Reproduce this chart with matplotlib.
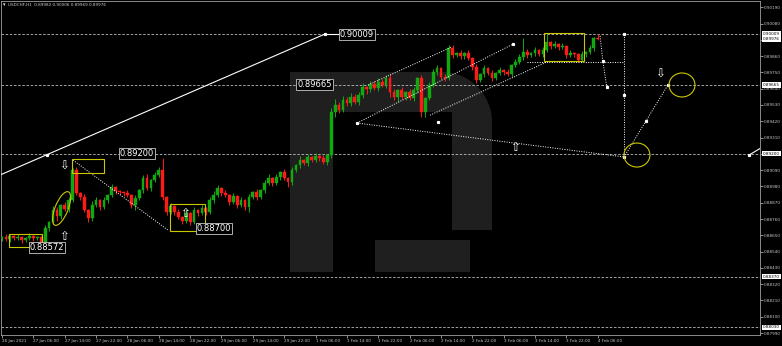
import matplotlib
matplotlib.use("Agg")
import matplotlib.pyplot as plt
import matplotlib.patches as mpatches
import matplotlib.transforms as mtransforms
import numpy as np

# USDCHF H1 candles, 26 Jan 22:00 -> 4 Feb 06:00
first_open = 0.88630
closes = [
    0.88637, 0.88623, 0.88644, 0.88630, 0.88637, 0.88616, 0.88630, 0.88644, 0.88630, 0.88637,
    0.88583, 0.88698, 0.88738, 0.88819, 0.88779, 0.88853, 0.88826, 0.88887, 0.89090, 0.88934,
    0.88907, 0.88819, 0.88765, 0.88853, 0.88887, 0.88840, 0.88887, 0.88921, 0.88975, 0.88948,
    0.88941, 0.88934, 0.88921, 0.88853, 0.88900, 0.88954, 0.89036, 0.88968, 0.89022, 0.89056,
    0.89090, 0.88907, 0.88806, 0.88846, 0.88806, 0.88772, 0.88745, 0.88799, 0.88738, 0.88819,
    0.88799, 0.88833, 0.88806, 0.88887, 0.88921, 0.88968, 0.88934, 0.88921, 0.88873, 0.88914,
    0.88853, 0.88887, 0.88840, 0.88907, 0.88941, 0.88907, 0.88954, 0.89002, 0.89036, 0.89002,
    0.89042, 0.89076, 0.89036, 0.89009, 0.89090, 0.89123, 0.89157, 0.89137, 0.89178, 0.89157,
    0.89184, 0.89171, 0.89144, 0.89191, 0.89482, 0.89529, 0.89495, 0.89563, 0.89543, 0.89583,
    0.89549, 0.89597, 0.89651, 0.89637, 0.89671, 0.89644, 0.89685, 0.89664, 0.89712, 0.89617,
    0.89583, 0.89630, 0.89583, 0.89617, 0.89576, 0.89630, 0.89712, 0.89482, 0.89576, 0.89664,
    0.89752, 0.89779, 0.89718, 0.89712, 0.89914, 0.89867, 0.89881, 0.89860, 0.89881, 0.89847,
    0.89786, 0.89698, 0.89739, 0.89779, 0.89745, 0.89712, 0.89745, 0.89766, 0.89752, 0.89739,
    0.89799, 0.89820, 0.89854, 0.89887, 0.89867, 0.89881, 0.89901, 0.89874, 0.89901, 0.89955,
    0.89928, 0.89941, 0.89921, 0.89928, 0.89867, 0.89881, 0.89874, 0.89833, 0.89874, 0.89887,
    0.89914, 0.89982, 0.89976,
]
# wick lengths in pips above / below the body
upper_wick = [
    1, 2, 1, 1, 2, 1, 1, 2, 1, 1,
    1, 2, 1, 3, 2, 1, 2, 2, 1.5, 2,
    1, 2, 1, 3, 2, 1, 2, 1, 2, 1,
    1, 1, 2, 1, 2, 1, 2, 3, 1, 2,
    2, 8, 1, 2, 1, 2, 1, 3, 1, 2,
    1, 2, 1, 2, 3, 2, 1, 2, 1, 2,
    1, 2, 1, 2, 1, 2, 1, 2, 3, 1,
    2, 1, 2, 1, 2, 1, 3, 1, 2, 1,
    2, 1, 2, 1, 3, 4, 2, 3, 2, 3,
    2, 2, 3, 1, 2, 2, 3, 2, 2, 3,
    2, 1, 2, 1, 2, 2, 1, 2, 1, 2,
    2, 2, 1, 2, 2, 2, 1, 2, 1, 2,
    1, 2, 1, 2, 1, 2, 1, 2, 1, 2,
    1, 2, 2, 9.5, 2, 1, 2, 1, 2, 5.4,
    1, 2, 1, 2, 1, 2, 1, 1, 2, 1,
    2, 1, 2.4,
]
lower_wick = [
    2, 1, 2, 1, 1, 2, 1, 1, 2, 1,
    2, 1, 2, 1, 3, 2, 1, 2, 1, 1,
    2, 1, 2.7, 2, 1, 2, 1, 2, 1, 2,
    1, 2, 1, 2, 3, 1, 2, 1, 2, 1,
    1, 2, 2, 1, 2, 1, 2, 1, 2, 1,
    2, 1, 2, 1, 2, 1, 2, 1, 2, 1,
    2, 1, 2, 3, 1, 2, 1, 2, 1, 2,
    1, 2, 1, 3, 2, 1, 2, 1, 2, 1,
    1, 2, 1, 2, 2, 3, 2, 1, 2, 2,
    1, 2, 2, 3, 2, 1, 2, 1, 2, 3,
    2, 3, 1, 2, 1, 2, 2, 3.4, 3.4, 1,
    1, 2, 1, 2, 1, 2, 1, 2, 2, 1,
    2, 2, 1, 2, 1, 2, 1, 1, 2, 1,
    2, 1, 1, 2, 2, 1, 2, 1, 2, 1,
    2, 1, 2, 1, 2, 1, 2, 1, 1, 2,
    1, 2, 0.7,
]
PIP = 0.0001

x_tick_bars = [0, 8, 16, 24, 32, 40, 48, 56, 64, 72, 80, 88, 96, 104, 112, 120, 128, 136, 144, 152]
x_tick_labels = ["26 Jan 2021", "27 Jan 06:00", "27 Jan 14:00", "27 Jan 22:00", "28 Jan 06:00",
                 "28 Jan 14:00", "28 Jan 22:00", "29 Jan 06:00", "29 Jan 14:00", "29 Jan 22:00",
                 "1 Feb 06:00", "1 Feb 14:00", "1 Feb 22:00", "2 Feb 06:00", "2 Feb 14:00",
                 "2 Feb 22:00", "3 Feb 06:00", "3 Feb 14:00", "3 Feb 22:00", "4 Feb 06:00"]
y_ticks = [0.87990, 0.88100, 0.88210, 0.88320, 0.88430, 0.88540, 0.88650, 0.88760, 0.88870,
           0.88980, 0.89090, 0.89200, 0.89310, 0.89420, 0.89530, 0.89640, 0.89750, 0.89860,
           0.89970, 0.90080, 0.90190]

# levels drawn on the chart
h_levels = [0.90009, 0.89665, 0.89200, 0.88370, 0.88030]
tag_levels = [0.90009, 0.89976, 0.89665, 0.89200, 0.88370, 0.88030]
chart_labels = [(86.2, 0.90009, "0.90009"), (75.3, 0.89665, "0.89665"), (30.1, 0.89200, "0.89200"),
                (49.7, 0.88693, "0.88700"), (7.1, 0.88565, "0.88572")]

GREEN = '#10aa10'
RED = '#ff1a1a'
YELLOW = '#ccc800'
GREY = '#a0a0a0'

fig = plt.figure(figsize=(7.82, 3.46), dpi=100, facecolor='black')
ax = fig.add_axes([1/782, 11/346, 759/782, 334/346])
ax.set_facecolor('black')
ax.set_xlim(-0.26, 193.4)
ax.set_ylim(0.87977, 0.90232)

# watermark logo (reference pixel coords -> axes)
px = mtransforms.Affine2D().translate(-1, -335).scale(1/759, -1/334) + ax.transAxes
wm = '#1f1f1f'
ax.add_patch(mpatches.Rectangle((290, 72), 43, 200, transform=px, fc=wm, ec='none', zorder=0))
t = np.linspace(0, np.pi/2, 20)
bowl = [(290, 72), (442, 72)] + [(442 + 50*np.sin(a), 122 - 50*np.cos(a)) for a in t] + \
       [(492, 230), (452, 230), (452, 112), (290, 112)]
ax.add_patch(mpatches.Polygon(bowl, closed=True, transform=px, fc=wm, ec='none', zorder=0))
ax.add_patch(mpatches.Rectangle((375, 240), 95, 32, transform=px, fc=wm, ec='none', zorder=0))

# candles
o = np.array([first_open] + closes[:-1])
c = np.array(closes)
hi = np.maximum(o, c) + np.array(upper_wick) * PIP
lo = np.minimum(o, c) - np.array(lower_wick) * PIP
idx = np.arange(len(c))
cols = np.where(c >= o, GREEN, RED)
ax.vlines(idx, lo, hi, colors=cols, lw=0.7, zorder=3)
ax.bar(idx, np.maximum(np.abs(c - o), 0.000015), bottom=np.minimum(o, c), width=0.7,
       color=cols, edgecolor=cols, lw=0.3, zorder=4)

# horizontal levels
for lv in h_levels:
    ax.axhline(lv, color='#bdbdbd', lw=0.6, ls=(0, (3, 2)), zorder=2)

dot = dict(color='white', lw=0.7, ls=(0, (1, 1.5)), zorder=5)
sq = dict(marker='s', ms=1.3, color='white', ls='none', zorder=6)

# trend line from the left
ax.plot([-0.51, 82.4], [0.89057, 0.90009], color='white', lw=0.8, zorder=5)
ax.plot([82.4, 86.2], [0.90009, 0.90009], color='white', lw=0.8, zorder=5)
ax.plot([11.5, 82.4], [0.89192, 0.90009], **sq)
ax.plot([190.6, 193.6], [0.89192, 0.89239], color='white', lw=0.8, zorder=5)
ax.plot([190.6], [0.89192], **sq)

# dotted analysis lines
ax.plot([18.1, 42.3], [0.89158, 0.88686], **dot)
ax.plot([90.6, 130.4], [0.89408, 0.89941], **dot)
ax.plot([90.6, 111.2, 130.4], [0.89408, 0.89412, 0.89941], **sq)
ax.plot([93.4, 114.8], [0.89665, 0.89922], **dot)
ax.plot([109.2, 139.0], [0.89461, 0.89820], **dot)
ax.plot([90.6, 158.7], [0.89408, 0.89179], **dot)
ax.plot([134.0, 158.7], [0.89820, 0.89820], **dot)
ax.plot([152.6, 153.3, 154.3], [0.89996, 0.89827, 0.89651], **dot)
ax.plot([153.3, 154.3], [0.89827, 0.89651], **sq)
ax.plot([158.7, 158.7], [0.90009, 0.89179], **dot)
ax.plot([158.7, 158.7, 158.7], [0.90009, 0.89597, 0.89179], **sq)
ax.plot([158.7, 164.3, 169.9], [0.89179, 0.89422, 0.89665], **dot)
ax.plot([164.3, 169.9], [0.89422, 0.89665], **sq)

# yellow boxes
for x0, x1, y0, y1 in [(1.8, 10.2, 0.88574, 0.88659), (17.9, 26.0, 0.89071, 0.89165),
                       (42.9, 51.8, 0.88679, 0.88862), (138.3, 148.5, 0.89827, 0.90016)]:
    ax.add_patch(mpatches.Rectangle((x0, y0), x1 - x0, y1 - y0, fill=False, ec=YELLOW,
                                    lw=0.8, zorder=6))


def ellipse(i, p, w_px, h_px, angle=0):
    tr = fig.dpi_scale_trans + mtransforms.ScaledTranslation(i, p, ax.transData)
    ax.add_patch(mpatches.Ellipse((0, 0), w_px / 100, h_px / 100, angle=angle, transform=tr,
                                  fill=False, ec=YELLOW, lw=0.8, zorder=6))


ellipse(15.2, 0.88831, 36, 13, 68)
ellipse(162.0, 0.89192, 26, 24)
ellipse(173.5, 0.89665, 26, 24)

# arrows
for i, p, ch in [(15.8, 0.89118, '\u21e9'), (15.8, 0.88645, '\u21e7'), (46.7, 0.88794, '\u21e7'),
                 (130.9, 0.89246, '\u21e7'), (167.9, 0.89739, '\u21e9')]:
    ax.text(i, p, ch, color='white', fontsize=8.5, ha='center', va='center', zorder=7)

# level labels on the chart
for i, p, txt in chart_labels:
    ax.text(i, p, txt, color='white', fontsize=6, ha='left', va='center', zorder=8,
            bbox=dict(boxstyle='square,pad=0.12', fc='black', ec='#c8c8c8', lw=0.6))

# axes styling
for s in ax.spines.values():
    s.set_color(GREY)
    s.set_linewidth(0.6)
ax.yaxis.tick_right()
ax.set_yticks(y_ticks)
ax.set_yticklabels([f"{v:.5f}" for v in y_ticks])
ax.tick_params(axis='y', colors='#c8c8c8', labelsize=3, length=2, width=0.5, pad=1)
ax.set_xticks(x_tick_bars)
ax.set_xticklabels(x_tick_labels, ha='left')
ax.tick_params(axis='x', colors='#c8c8c8', labelsize=3, length=2, width=0.5, pad=1)

# price tags on the right axis
blend = mtransforms.blended_transform_factory(ax.transAxes, ax.transData)
for lv in tag_levels:
    ax.text(1.004, lv, f"{lv:.5f}", transform=blend, fontsize=3, color='black', ha='left',
            va='center', clip_on=False, zorder=9,
            bbox=dict(boxstyle='square,pad=0.15', fc='white', ec='none'))

fig.text(3/782, 1 - 5/346, '\u25be', color='white', fontsize=3.5, va='center', ha='left')
fig.text(8/782, 1 - 5/346, 'USDCHF,H1  0.89982 0.90006 0.89969 0.89976', color='#d0d0d0',
         fontsize=3, va='center', ha='left')

fig.savefig('out.png', dpi=100, facecolor='black')
